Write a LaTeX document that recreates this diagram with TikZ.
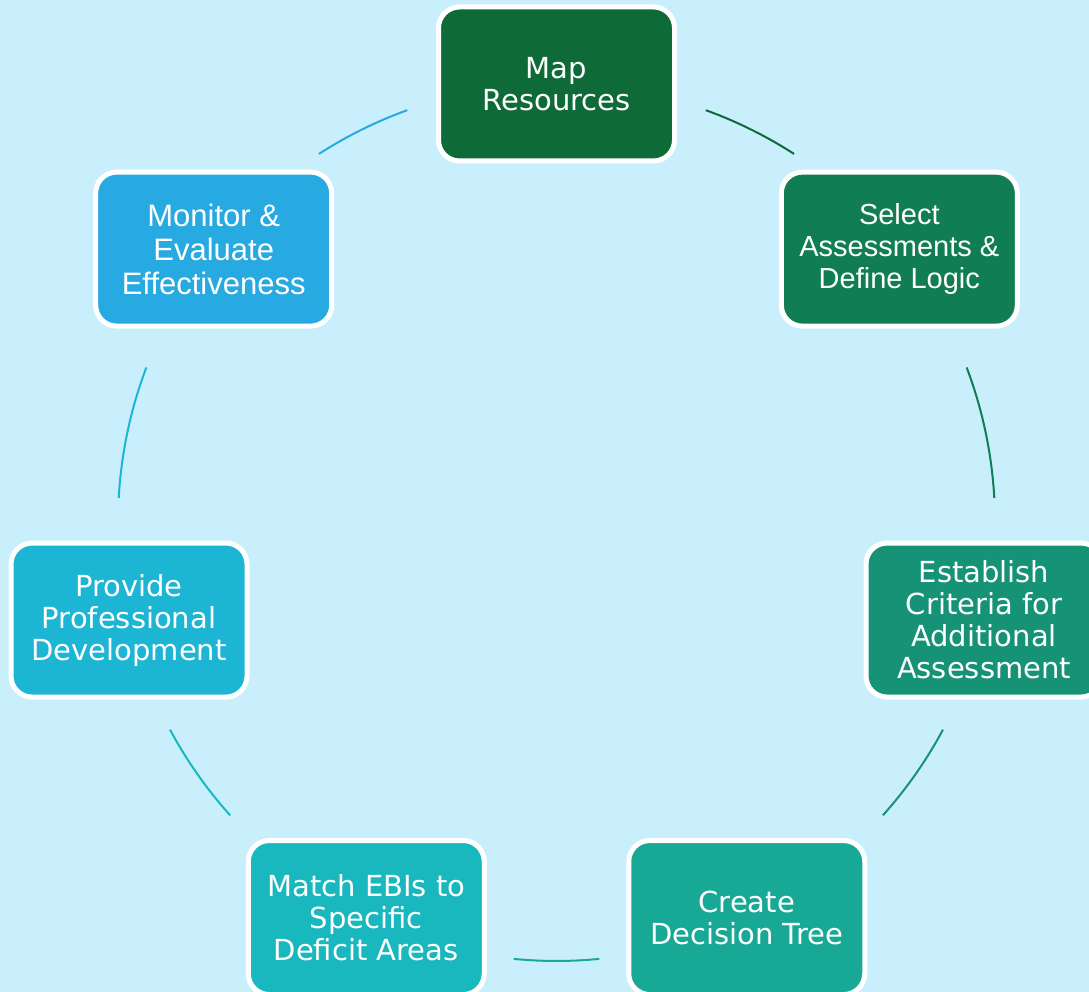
\documentclass[tikz,border=0pt]{standalone}
\usepackage{fontspec}
\setmainfont{DejaVu Sans}
\newfontfamily\arialfont{Liberation Sans}
\usetikzlibrary{calc}
\definecolor{bgc}{HTML}{C9EFFD}
\definecolor{cmap}{HTML}{0E6B38}
\definecolor{csel}{HTML}{117D55}
\definecolor{cest}{HTML}{169377}
\definecolor{ccre}{HTML}{17A996}
\definecolor{cmat}{HTML}{19B7BE}
\definecolor{cpro}{HTML}{1CB5D4}
\definecolor{cmon}{HTML}{27A9E1}
\tikzset{
  stepbox/.style={draw=white, line width=5pt, rounded corners=21pt,
    minimum width=236pt, minimum height=154pt, inner sep=0pt,
    text=white, align=center, font=\fontsize{29}{32}\selectfont},
  arcline/.style={line width=2pt}
}
\begin{document}
\begin{tikzpicture}[x=1pt,y=1pt]
\fill[bgc] (0,0) rectangle (1089,992);
\useasboundingbox (0,0) rectangle (1089,992);
\clip (0,0) rectangle (1089,992);
\coordinate (O) at (556.5,469.5);
\def\R{438.5pt}
% nodes
\node[stepbox, fill=cmap] (map) at ($(O)+(90:\R)$) {Map\\Resources};
\node[stepbox, fill=csel, font=\arialfont\fontsize{29}{32}\selectfont] (sel) at ($(O)+(38.571:\R)$) {Select\\Assessments \&\\Define Logic};
\node[stepbox, fill=cest] (est) at ($(O)+(-12.857:\R)$) {Establish\\Criteria for\\Additional\\Assessment};
\node[stepbox, fill=ccre] (cre) at ($(O)+(-64.286:\R)$) {Create\\Decision Tree};
\node[stepbox, fill=cmat] (mat) at ($(O)+(-115.714:\R)$) {Match EBIs to\\Specific\\Deficit Areas};
\node[stepbox, fill=cpro] (pro) at ($(O)+(-167.143:\R)$) {Provide\\Professional\\Development};
\node[stepbox, fill=cmon, font=\arialfont\fontsize{31}{34}\selectfont] (mon) at ($(O)+(141.429:\R)$) {Monitor \&\\Evaluate\\Effectiveness};
% connector start points
\coordinate (a1) at ($(O)+(70.1:\R)$);
\coordinate (a2) at ($(O)+(20.7:\R)$);
\coordinate (a3) at ($(O)+(-28.2:\R)$);
\coordinate (a4) at ($(O)+(-84.4:\R)$);
\coordinate (a5) at ($(O)+(-138.1:\R)$);
\coordinate (a6) at ($(O)+(176.8:\R)$);
\coordinate (a7) at ($(O)+(122.8:\R)$);
% connectors (arcs of the cycle)
\draw[arcline, cmap] (a1) arc[start angle=70.1, end angle=57.2, radius=\R];
\draw[arcline, csel] (a2) arc[start angle=20.7, end angle=3.2, radius=\R];
\draw[arcline, cest] (a3) arc[start angle=-28.2, end angle=-41.9, radius=\R];
\draw[arcline, ccre] (a4) arc[start angle=-84.4, end angle=-95.6, radius=\R];
\draw[arcline, cmat] (a5) arc[start angle=-138.1, end angle=-151.8, radius=\R];
\draw[arcline, cpro] (a6) arc[start angle=176.8, end angle=159.3, radius=\R];
\draw[arcline, cmon] (a7) arc[start angle=122.8, end angle=109.9, radius=\R];
\end{tikzpicture}
\end{document}
